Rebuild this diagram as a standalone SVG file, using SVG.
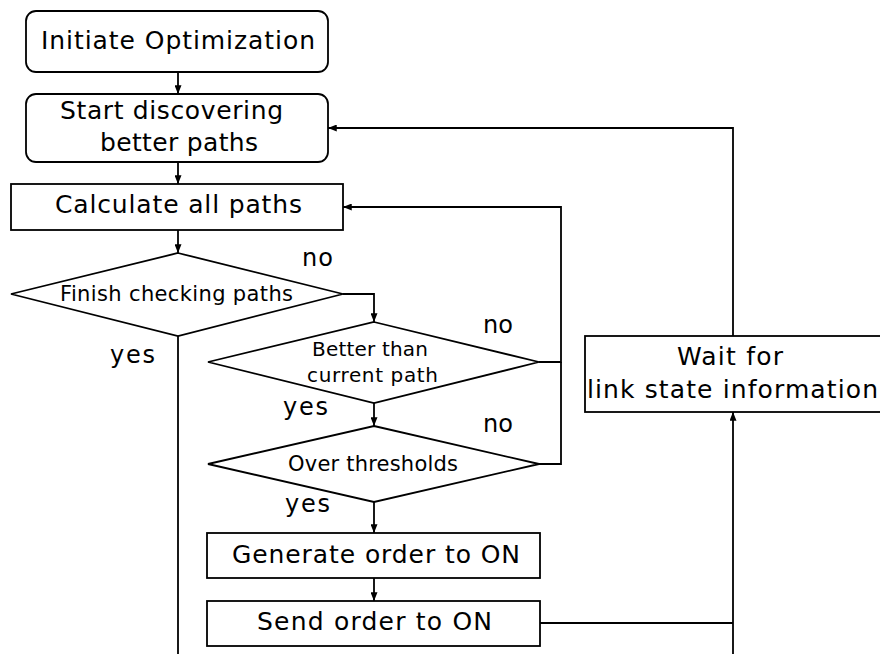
<svg xmlns="http://www.w3.org/2000/svg" width="880" height="654" viewBox="0 0 880 654">
  <defs>
    <marker id="arrow" viewBox="0 0 10 8" refX="10" refY="4" markerWidth="9" markerHeight="7" orient="auto" markerUnits="userSpaceOnUse">
      <path d="M0,0 L10,4 L0,8 z" fill="#000"/>
    </marker>
    <style>
      .shape { fill: #fff; stroke: #000; stroke-width: 1.8; }
      .conn { fill: none; stroke: #000; stroke-width: 1.8; }
      .arr { marker-end: url(#arrow); }
      text { font-family: "DejaVu Sans", "Liberation Sans", sans-serif; fill: #000; text-anchor: start; }
      .big { font-size: 25px; }
      .mid { font-size: 21px; }
      .sml { font-size: 20px; }
      .lbl { font-size: 24px; }
    </style>
  </defs>
  <rect x="0" y="0" width="880" height="654" fill="#fff"/>

  <!-- connectors -->
  <g id="connectors">
    <path class="conn arr" d="M178,72 L178,94"/>
    <path class="conn arr" d="M178,162 L178,184"/>
    <path class="conn arr" d="M178,230 L178,253"/>
    <path class="conn arr" d="M343,294 L374,294 L374,322"/>
    <path class="conn" d="M178,336 L178,654"/>
    <path class="conn arr" d="M539,362 L561,362 L561,207 L343,207"/>
    <path class="conn" d="M539,464 L561,464 L561,362"/>
    <path class="conn arr" d="M374,403 L374,426"/>
    <path class="conn arr" d="M374,502 L374,533"/>
    <path class="conn arr" d="M374,578 L374,601"/>
    <path class="conn" d="M540,623 L733,623"/>
    <path class="conn arr" d="M733,654 L733,412"/>
    <path class="conn arr" d="M733,336 L733,128 L328,128"/>
  </g>

  <!-- branch labels -->
  <g id="labels">
    <text class="lbl" x="302" y="266" textLength="31" lengthAdjust="spacing">no</text>
    <text class="lbl" x="110" y="363" textLength="45" lengthAdjust="spacing">yes</text>
    <text class="lbl" x="483" y="333" textLength="30" lengthAdjust="spacing">no</text>
    <text class="lbl" x="283" y="415" textLength="45" lengthAdjust="spacing">yes</text>
    <text class="lbl" x="483" y="432" textLength="30" lengthAdjust="spacing">no</text>
    <text class="lbl" x="285" y="512" textLength="45" lengthAdjust="spacing">yes</text>
  </g>

  <g id="initiate">
    <rect class="shape" x="26" y="11" width="302" height="61" rx="10" ry="10"/>
    <text class="big" x="41" y="49" textLength="274" lengthAdjust="spacing">Initiate Optimization</text>
  </g>

  <g id="start-discovering">
    <rect class="shape" x="26" y="94" width="302" height="68" rx="10" ry="10"/>
    <text class="big" x="60" y="119" textLength="223" lengthAdjust="spacing">Start discovering</text>
    <text class="big" x="100" y="151" textLength="158" lengthAdjust="spacing">better paths</text>
  </g>

  <g id="calculate">
    <rect class="shape" x="11" y="184" width="332" height="46"/>
    <text class="big" x="55" y="213" textLength="247" lengthAdjust="spacing">Calculate all paths</text>
  </g>

  <g id="finish-checking">
    <polygon class="shape" points="178,253 343,294 178,336 11,294"/>
    <text class="mid" x="60" y="301" textLength="233" lengthAdjust="spacing">Finish checking paths</text>
  </g>

  <g id="better-than">
    <polygon class="shape" points="374,322 539,362 374,403 208,362"/>
    <text class="sml" x="312" y="356" textLength="116" lengthAdjust="spacing">Better than</text>
    <text class="sml" x="307" y="382" textLength="131" lengthAdjust="spacing">current path</text>
  </g>

  <g id="over-thresholds">
    <polygon class="shape" points="374,426 539,464 374,502 208,464"/>
    <text class="mid" x="288" y="471" textLength="170" lengthAdjust="spacing">Over thresholds</text>
  </g>

  <g id="generate-order">
    <rect class="shape" x="207" y="533" width="333" height="45"/>
    <text class="big" x="232" y="563" textLength="288" lengthAdjust="spacing">Generate order to ON</text>
  </g>

  <g id="send-order">
    <rect class="shape" x="207" y="601" width="333" height="45"/>
    <text class="big" x="257" y="630" textLength="235" lengthAdjust="spacing">Send order to ON</text>
  </g>

  <g id="wait-link-state">
    <rect class="shape" x="585" y="336" width="310" height="76"/>
    <text class="big" x="677" y="365" textLength="106" lengthAdjust="spacing">Wait for</text>
    <text class="big" x="587" y="398" textLength="291" lengthAdjust="spacing">link state information</text>
  </g>
</svg>
